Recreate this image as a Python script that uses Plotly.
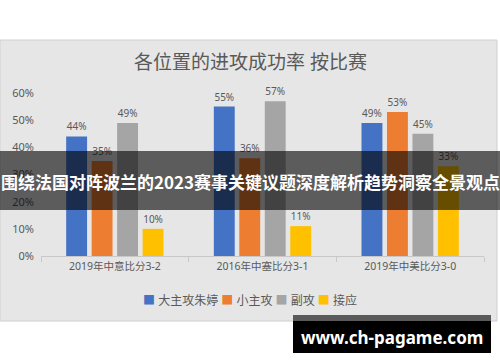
import plotly.graph_objects as go

categories = ["2019年中意比分3-2", "2016年中塞比分3-1", "2019年中美比分3-0"]
series_names = ["大主攻朱婷", "小主攻", "副攻", "接应"]
values = {
    "大主攻朱婷": [0.44, 0.55, 0.49],
    "小主攻": [0.35, 0.36, 0.53],
    "副攻": [0.49, 0.57, 0.45],
    "接应": [0.10, 0.11, 0.33],
}
colors = ["#4472C4", "#ED7D31", "#A5A5A5", "#FFC000"]
y_ticks = [0, 0.1, 0.2, 0.3, 0.4, 0.5, 0.6]
title_text = "各位置的进攻成功率 按比赛"
banner_text = "围绕法国对阵波兰的2023赛事关键议题深度解析趋势洞察全景观点"
watermark_text = "www.ch-pagame.com"

W, H = 500, 362
def py(p):
    return (H - p) / H
def px(p):
    return p / W

FONT = "Noto Sans, Noto Sans CJK SC, sans-serif"
TXT = "#595959"

fig = go.Figure()
for name, c in zip(series_names, colors):
    fig.add_trace(go.Bar(
        x=categories, y=values[name], name=name,
        marker=dict(color=c, line=dict(width=0)),
        texttemplate="%{y:.0%}", textposition="outside",
        textfont=dict(size=10, color=TXT, family=FONT),
        cliponaxis=False, showlegend=False,
    ))

# legend built as text with coloured square glyphs
legend_html = " ".join(
    '<span style="color:%s">■</span> %s' % (c, n) for n, c in zip(series_names, colors)
)

shapes = [
    dict(type="rect", xref="paper", yref="paper", x0=0, x1=px(497), y0=py(321), y1=py(40),
         fillcolor="#E6E6E6", line=dict(color="#D0D0D0", width=1), layer="below"),
    dict(type="rect", xref="paper", yref="paper", x0=0, x1=1, y0=py(210), y1=py(151),
         fillcolor="rgba(0,0,0,0.6)", line=dict(width=0), layer="above"),
    dict(type="rect", xref="paper", yref="paper", x0=px(293), x1=px(491), y0=py(321), y1=py(315),
         fillcolor="#5A5A5A", line=dict(width=0), layer="above"),
    dict(type="rect", xref="paper", yref="paper", x0=px(293), x1=px(491), y0=py(353), y1=py(321),
         fillcolor="#000000", line=dict(width=0), layer="above"),
]

annotations = [
    dict(text=title_text, xref="paper", yref="paper", x=0.5, y=py(62), xanchor="center",
         yanchor="middle", showarrow=False, font=dict(size=19, color=TXT, family=FONT)),
    dict(text=legend_html, xref="paper", yref="paper", x=px(250), y=py(300), xanchor="center",
         yanchor="middle", showarrow=False, font=dict(size=12, color=TXT, family=FONT)),
    dict(text="<b>" + banner_text + "</b>", xref="paper", yref="paper", x=0.5, y=py(182),
         xanchor="center", yanchor="middle", showarrow=False,
         font=dict(size=17, color="white", family="Noto Sans CJK SC, sans-serif")),
    dict(text="<b>" + watermark_text + "</b>", xref="paper", yref="paper", x=px(392), y=py(337),
         xanchor="center", yanchor="middle", showarrow=False,
         font=dict(size=17, color="white", family="Noto Sans, DejaVu Sans, sans-serif")),
]

fig.update_layout(
    width=W, height=H,
    margin=dict(l=0, r=0, t=0, b=0, autoexpand=False),
    paper_bgcolor="white", plot_bgcolor="rgba(0,0,0,0)",
    barmode="group", bargap=0.31, bargroupgap=0.18,
    font=dict(family=FONT, color=TXT),
    showlegend=False,
    xaxis=dict(domain=[px(41), px(484)], showgrid=False, showline=True, linecolor="#C8C8C8",
               ticks="outside", tickson="boundaries", ticklen=5, tickcolor="#C8C8C8",
               tickfont=dict(size=10.5, color=TXT, family=FONT), anchor="y", automargin=False),
    yaxis=dict(domain=[py(256), py(93)], range=[0, 0.6], tickvals=y_ticks, tickformat=".0%",
               showgrid=False, zeroline=False, showline=False, automargin=False,
               tickfont=dict(size=11, color=TXT, family=FONT), ticklabelstandoff=6),
    shapes=shapes, annotations=annotations,
)

fig.write_html("out.html", config={"displayModeBar": False},
               post_script="document.body.style.margin='0';")
